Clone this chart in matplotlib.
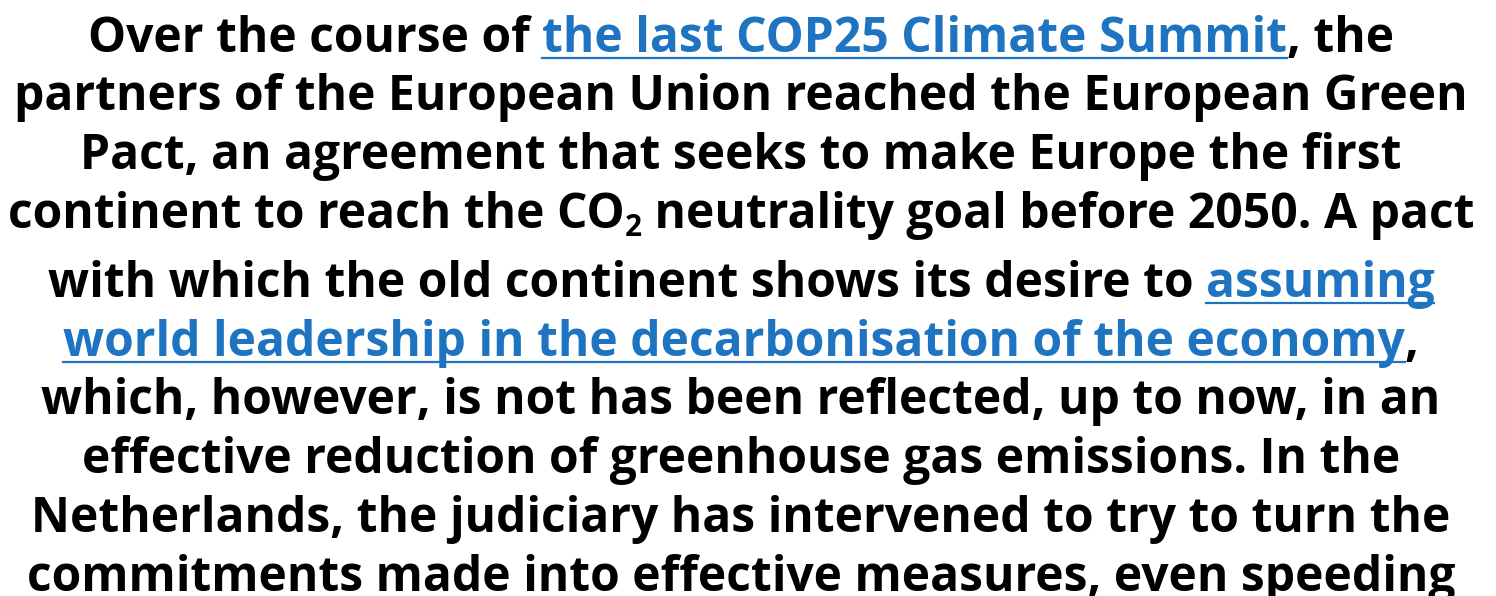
import matplotlib
matplotlib.use("Agg")
import matplotlib.pyplot as plt

# Paragraph text, line by line; each line is a list of (text, kind) pieces
# kind: "n" = normal black, "l" = blue underlined link, "s" = subscript
line1 = [("Over the course of ", "n"), ("the last COP25 Climate Summit", "l"), (", the", "n")]
line2 = [("partners of the European Union reached the European Green", "n")]
line3 = [("Pact, an agreement that seeks to make Europe the first", "n")]
line4 = [("continent to reach the CO", "n"), ("2", "s"), (" neutrality goal before 2050. A pact", "n")]
line5 = [("with which the old continent shows its desire to ", "n"), ("assuming", "l")]
line6 = [("world leadership in the decarbonisation of the economy", "l"), (",", "n")]
line7 = [("which, however, is not has been reflected, up to now, in an", "n")]
line8 = [("effective reduction of greenhouse gas emissions. In the", "n")]
line9 = [("Netherlands, the judiciary has intervened to try to turn the", "n")]
line10 = [("commitments made into effective measures, even speeding", "n")]
lines = [line1, line2, line3, line4, line5, line6, line7, line8, line9, line10]

# baselines in pixels from the top
baselines = [52, 110, 169, 228, 297, 356, 414, 473, 532, 591]

W, H = 1496, 596
CENTER = 741
BLACK = "#000000"
BLUE = "#1f74c1"
FONT = "Open Sans"

fig = plt.figure(figsize=(W / 100, H / 100), dpi=100)
fig.patch.set_facecolor("white")
renderer = fig.canvas.get_renderer()


def text_width(s, size):
    # width in px, keeping trailing spaces
    t = fig.text(0, 0, s + "l", fontsize=size, family=FONT, fontweight="bold")
    w = t.get_window_extent(renderer).width
    t.remove()
    t = fig.text(0, 0, "l", fontsize=size, family=FONT, fontweight="bold")
    w -= t.get_window_extent(renderer).width
    t.remove()
    return w


# scale font so the widest line fits like in the reference
target = 1457
w10 = text_width(line2[0][0], 10)
size = 10 * target / w10
sub_size = size * 0.62

for segs, base in zip(lines, baselines):
    widths = []
    for s, kind in segs:
        widths.append(text_width(s, sub_size if kind == "s" else size))
    total = sum(widths)
    x = CENTER - total / 2
    for (s, kind), w in zip(segs, widths):
        y = base
        fs = size
        col = BLACK
        if kind == "s":
            fs = sub_size
            y = base + 8
        if kind == "l":
            col = BLUE
        fig.text(x / W, 1 - y / H, s, fontsize=fs, family=FONT, fontweight="bold",
                 color=col, ha="left", va="baseline")
        if kind == "l":
            uy = 1 - (base + 6) / H
            fig.add_artist(plt.Line2D([x / W, (x + w) / W], [uy, uy], color=BLUE,
                                      linewidth=1.6, transform=fig.transFigure))
        x += w

fig.savefig("out.png", dpi=100, facecolor="white")
